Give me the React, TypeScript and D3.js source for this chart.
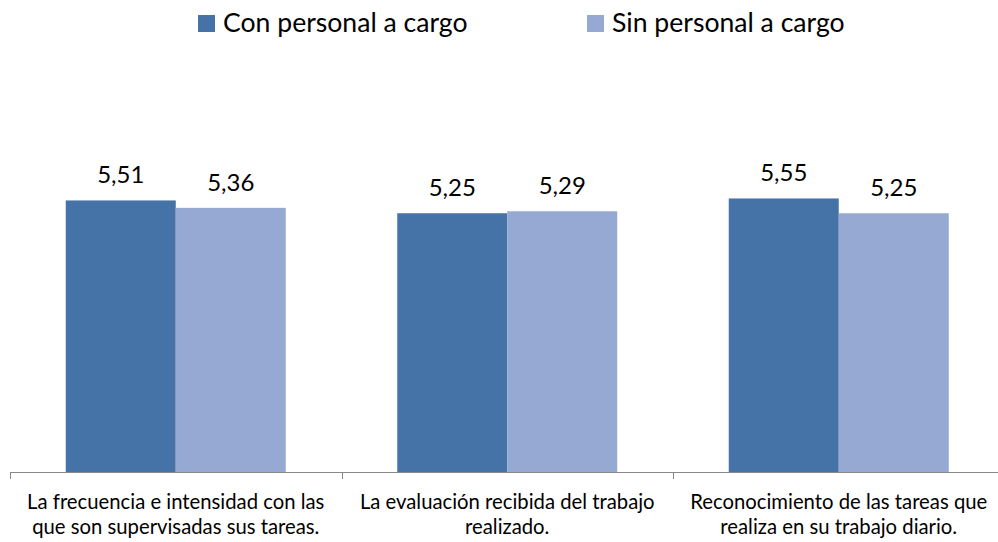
import * as d3 from "d3";
import { useEffect, useRef } from "react";

const categories = [
  ["La frecuencia e intensidad con las", "que son supervisadas sus tareas."],
  ["La evaluación recibida del trabajo", "realizado."],
  ["Reconocimiento de las tareas que", "realiza en su trabajo diario."],
];
const seriesNames = ["Con personal a cargo", "Sin personal a cargo"];
const conPersonal = [5.51, 5.25, 5.55];
const sinPersonal = [5.36, 5.29, 5.25];

const WIDTH = 998;
const HEIGHT = 542;
const COLORS = ["#4572A7", "#95A9D2"];
const FONT = "Lato, 'Open Sans', sans-serif";
const BASE_Y = 472;

export default function App() {
  const svgRef = useRef<SVGSVGElement | null>(null);

  useEffect(() => {
    if (!svgRef.current) return;
    const svg = d3.select(svgRef.current);
    svg.selectAll("*").remove();

    const idx = categories.map((_, i) => String(i));
    const x = d3.scaleBand<string>().domain(idx).range([10, 1004.5]).paddingInner(0).paddingOuter(0);
    const inner = d3.scaleBand<number>().domain([0, 1]).range([55.75, x.bandwidth() - 55.75]);
    const y = d3.scaleLinear().domain([0, 7]).range([BASE_Y, BASE_Y - 345]);

    const data = categories.map((_, i) => [conPersonal[i], sinPersonal[i]]);

    const groups = svg
      .append("g")
      .selectAll("g")
      .data(data)
      .join("g")
      .attr("transform", (_, i) => `translate(${x(String(i))},0)`);

    groups
      .selectAll("rect")
      .data((d) => d)
      .join("rect")
      .attr("x", (_, j) => inner(j) ?? 0)
      .attr("y", (d) => y(d))
      .attr("width", inner.bandwidth())
      .attr("height", (d) => y(0) - y(d))
      .attr("fill", (_, j) => COLORS[j]);

    groups
      .selectAll("text")
      .data((d) => d)
      .join("text")
      .attr("x", (_, j) => (inner(j) ?? 0) + inner.bandwidth() / 2)
      .attr("y", (d) => y(d) - 17)
      .attr("text-anchor", "middle")
      .attr("font-family", FONT)
      .attr("font-size", 24)
      .attr("fill", "#000")
      .text((d) => d.toFixed(2).replace(".", ","));

    // axis
    const axis = svg.append("g").attr("transform", `translate(0,${BASE_Y})`);
    axis
      .call(d3.axisBottom(x).tickSize(0).tickFormat(() => ""))
      .call((g) => g.select(".domain").attr("stroke", "#888").attr("d", `M10,0.5H1004.5`));
    axis
      .selectAll("line.sep")
      .data([...idx.map((i) => x(i) ?? 0), 1004.5])
      .join("line")
      .attr("class", "sep")
      .attr("x1", (d) => Math.round(d) + 0.5)
      .attr("x2", (d) => Math.round(d) + 0.5)
      .attr("y1", 0)
      .attr("y2", 7)
      .attr("stroke", "#888");

    const labels = svg
      .append("g")
      .selectAll("text")
      .data(categories)
      .join("text")
      .attr("text-anchor", "middle")
      .attr("font-family", FONT)
      .attr("font-size", 20.3)
      .attr("fill", "#000");
    labels
      .selectAll("tspan")
      .data((d) => d)
      .join("tspan")
      .attr("x", function () {
        const i = categories.indexOf(d3.select(this.parentNode as SVGTextElement).datum() as string[]);
        return (x(String(i)) ?? 0) + x.bandwidth() / 2;
      })
      .attr("y", (_, j) => 509 + j * 25)
      .text((d) => d);

    // legend
    const legendX = [198, 587];
    const legend = svg
      .append("g")
      .selectAll("g")
      .data(seriesNames)
      .join("g")
      .attr("transform", (_, i) => `translate(${legendX[i]},15)`);
    legend
      .append("rect")
      .attr("width", 17)
      .attr("height", 17)
      .attr("fill", (_, i) => COLORS[i]);
    legend
      .append("text")
      .attr("x", (_, i) => (i === 0 ? 25 : 25))
      .attr("y", 17)
      .attr("font-family", FONT)
      .attr("font-size", 26.6)
      .attr("fill", "#000")
      .text((d) => d);
  }, []);

  return (
    <svg
      ref={svgRef}
      width={WIDTH}
      height={HEIGHT}
      style={{ position: "absolute", left: 0, top: 0, background: "#fff" }}
    />
  );
}
